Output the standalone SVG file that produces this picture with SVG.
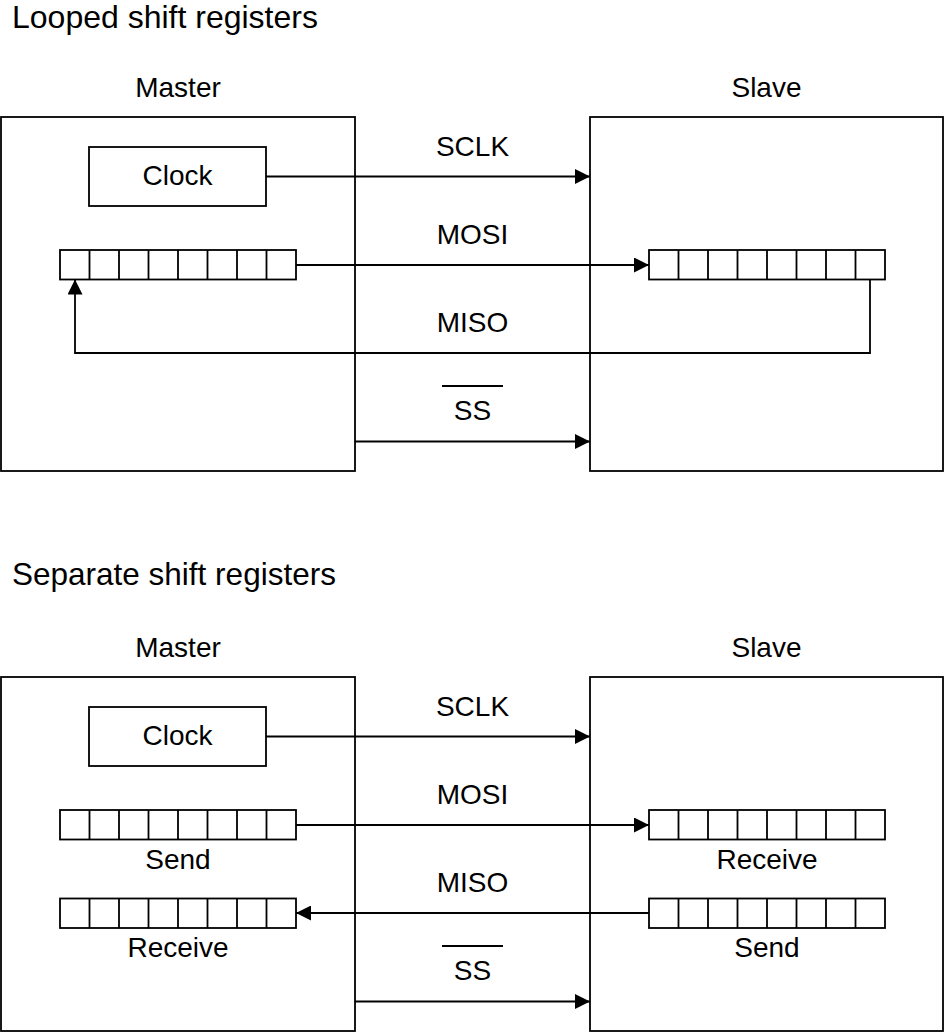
<svg xmlns="http://www.w3.org/2000/svg" width="945" height="1032" viewBox="0 0 945 1032">
<style>
.box{fill:#fff;stroke:#000;stroke-width:1.8}
.ln{fill:none;stroke:#000;stroke-width:1.8}
.lbl{font-family:"Liberation Sans",Arial,sans-serif;font-size:28px;fill:#000;text-anchor:middle}
.ttl{font-family:"Liberation Sans",Arial,sans-serif;fill:#000}
</style>
<defs>
<marker id="arr" markerUnits="userSpaceOnUse" markerWidth="16" markerHeight="15" refX="15" refY="7.5" orient="auto">
<path d="M0,0 L15,7.5 L0,15 z" fill="#000"/>
</marker>
<g id="reg">
<rect x="0" y="0" width="236" height="29.5" class="box"/>
<path class="ln" d="M29.5,0v29.5M59,0v29.5M88.5,0v29.5M118,0v29.5M147.5,0v29.5M177,0v29.5M206.5,0v29.5"/>
</g>
</defs>
<rect width="945" height="1032" fill="#fff"/>

<text class="ttl" x="12" y="28" font-size="32">Looped shift registers</text>
<text class="ttl" x="12" y="585" font-size="31.5">Separate shift registers</text>

<!-- Top section -->
<g id="master1">
<text class="lbl" x="178" y="97">Master</text>
<rect class="box" x="1" y="117" width="354" height="354"/>
</g>
<g id="slave1">
<text class="lbl" x="766.5" y="97">Slave</text>
<rect class="box" x="590" y="117" width="353" height="354"/>
</g>
<g id="clock1">
<rect class="box" x="89" y="147" width="177" height="59"/>
<text class="lbl" x="177.5" y="185">Clock</text>
</g>
<g id="mreg1"><use href="#reg" x="60" y="250"/></g>
<g id="sreg1"><use href="#reg" x="649" y="250"/></g>

<g id="connectors1">
<path class="ln" d="M266,176.5H590" marker-end="url(#arr)"/>
<path class="ln" d="M296,265H649" marker-end="url(#arr)"/>
<path class="ln" d="M870,279.5V353H75V279.5" marker-end="url(#arr)"/>
<path class="ln" d="M355,441.5H590" marker-end="url(#arr)"/>
<text class="lbl" x="472.5" y="156">SCLK</text>
<text class="lbl" x="472.5" y="244">MOSI</text>
<text class="lbl" x="472.5" y="332">MISO</text>
<path class="ln" d="M442,386H503"/>
<text class="lbl" x="472.5" y="420">SS</text>
</g>

<!-- Bottom section -->
<g id="master2">
<text class="lbl" x="178" y="657">Master</text>
<rect class="box" x="1" y="677" width="354" height="354"/>
</g>
<g id="slave2">
<text class="lbl" x="766.5" y="657">Slave</text>
<rect class="box" x="590" y="677" width="353" height="354"/>
</g>
<g id="clock2">
<rect class="box" x="89" y="707" width="177" height="59"/>
<text class="lbl" x="177.5" y="745">Clock</text>
</g>
<g id="msend2"><use href="#reg" x="60" y="810"/><text class="lbl" x="178" y="869">Send</text></g>
<g id="mrecv2"><use href="#reg" x="60" y="898.5"/><text class="lbl" x="178" y="957">Receive</text></g>
<g id="srecv2"><use href="#reg" x="649" y="810"/><text class="lbl" x="767" y="869">Receive</text></g>
<g id="ssend2"><use href="#reg" x="649" y="898.5"/><text class="lbl" x="767" y="957">Send</text></g>

<g id="connectors2">
<path class="ln" d="M266,736.5H590" marker-end="url(#arr)"/>
<path class="ln" d="M296,825H649" marker-end="url(#arr)"/>
<path class="ln" d="M649,913H296" marker-end="url(#arr)"/>
<path class="ln" d="M355,1001.5H590" marker-end="url(#arr)"/>
<text class="lbl" x="472.5" y="716">SCLK</text>
<text class="lbl" x="472.5" y="804">MOSI</text>
<text class="lbl" x="472.5" y="892">MISO</text>
<path class="ln" d="M442,946H503"/>
<text class="lbl" x="472.5" y="980">SS</text>
</g>
</svg>
